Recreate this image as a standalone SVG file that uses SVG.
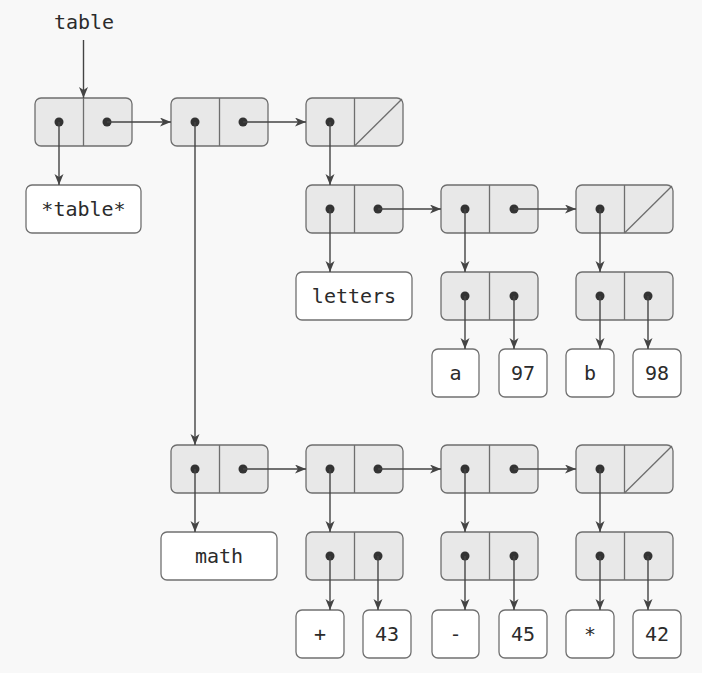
<svg xmlns="http://www.w3.org/2000/svg" width="702" height="673" viewBox="0 0 702 673">
<defs>
<style>
.cell{fill:#e8e8e8;stroke:#6e6e6e;stroke-width:1.3}
.div{stroke:#6e6e6e;stroke-width:1.3}
.leaf{fill:#ffffff;stroke:#707070;stroke-width:1.3}
.dot{fill:#333333}
.t{font-family:"DejaVu Sans Mono","Liberation Mono",monospace;font-size:20px;fill:#2b2b2b;text-anchor:middle}
.c{stroke:#444444;stroke-width:1.4;fill:none;marker-end:url(#ah)}
</style>
<marker id="ah" markerUnits="userSpaceOnUse" markerWidth="12" markerHeight="10" refX="11" refY="4.5" orient="auto">
<path d="M0,0 L11,4.5 L0,9 L3,4.5 z" fill="#444444"/>
</marker>
</defs>
<rect width="702" height="673" fill="#f8f8f8"/>
<text class="t" x="84" y="29">table</text>

<g id="c1"><rect class="cell" x="35" y="98" width="97" height="48" rx="6"/><line class="div" x1="83.5" y1="98" x2="83.5" y2="146"/><circle class="dot" cx="59" cy="122" r="4.5"/><circle class="dot" cx="107" cy="122" r="4.5"/></g>
<g id="c2"><rect class="cell" x="171" y="98" width="97" height="48" rx="6"/><line class="div" x1="219.5" y1="98" x2="219.5" y2="146"/><circle class="dot" cx="195" cy="122" r="4.5"/><circle class="dot" cx="243" cy="122" r="4.5"/></g>
<g id="c3"><rect class="cell" x="306" y="98" width="97" height="48" rx="6"/><line class="div" x1="354.5" y1="98" x2="354.5" y2="146"/><line class="div" x1="354.5" y1="146" x2="402" y2="99"/><circle class="dot" cx="330" cy="122" r="4.5"/></g>
<g id="c4"><rect class="cell" x="306" y="185" width="97" height="48" rx="6"/><line class="div" x1="354.5" y1="185" x2="354.5" y2="233"/><circle class="dot" cx="330" cy="209" r="4.5"/><circle class="dot" cx="378" cy="209" r="4.5"/></g>
<g id="c5"><rect class="cell" x="441" y="185" width="97" height="48" rx="6"/><line class="div" x1="489.5" y1="185" x2="489.5" y2="233"/><circle class="dot" cx="465" cy="209" r="4.5"/><circle class="dot" cx="514" cy="209" r="4.5"/></g>
<g id="c6"><rect class="cell" x="576" y="185" width="97" height="48" rx="6"/><line class="div" x1="624.5" y1="185" x2="624.5" y2="233"/><line class="div" x1="624.5" y1="233" x2="672" y2="186"/><circle class="dot" cx="600" cy="209" r="4.5"/></g>
<g id="p1"><rect class="cell" x="441" y="272" width="97" height="48" rx="6"/><line class="div" x1="489.5" y1="272" x2="489.5" y2="320"/><circle class="dot" cx="465" cy="296" r="4.5"/><circle class="dot" cx="514" cy="296" r="4.5"/></g>
<g id="p2"><rect class="cell" x="576" y="272" width="97" height="48" rx="6"/><line class="div" x1="624.5" y1="272" x2="624.5" y2="320"/><circle class="dot" cx="600" cy="296" r="4.5"/><circle class="dot" cx="648" cy="296" r="4.5"/></g>
<g id="c7"><rect class="cell" x="171" y="445" width="97" height="48" rx="6"/><line class="div" x1="219.5" y1="445" x2="219.5" y2="493"/><circle class="dot" cx="195" cy="469" r="4.5"/><circle class="dot" cx="243" cy="469" r="4.5"/></g>
<g id="c8"><rect class="cell" x="306" y="445" width="97" height="48" rx="6"/><line class="div" x1="354.5" y1="445" x2="354.5" y2="493"/><circle class="dot" cx="330" cy="469" r="4.5"/><circle class="dot" cx="378" cy="469" r="4.5"/></g>
<g id="c9"><rect class="cell" x="441" y="445" width="97" height="48" rx="6"/><line class="div" x1="489.5" y1="445" x2="489.5" y2="493"/><circle class="dot" cx="465" cy="469" r="4.5"/><circle class="dot" cx="514" cy="469" r="4.5"/></g>
<g id="c10"><rect class="cell" x="576" y="445" width="97" height="48" rx="6"/><line class="div" x1="624.5" y1="445" x2="624.5" y2="493"/><line class="div" x1="624.5" y1="493" x2="672" y2="446"/><circle class="dot" cx="600" cy="469" r="4.5"/></g>
<g id="p3"><rect class="cell" x="306" y="532" width="97" height="48" rx="6"/><line class="div" x1="354.5" y1="532" x2="354.5" y2="580"/><circle class="dot" cx="330" cy="556" r="4.5"/><circle class="dot" cx="378" cy="556" r="4.5"/></g>
<g id="p4"><rect class="cell" x="441" y="532" width="97" height="48" rx="6"/><line class="div" x1="489.5" y1="532" x2="489.5" y2="580"/><circle class="dot" cx="465" cy="556" r="4.5"/><circle class="dot" cx="514" cy="556" r="4.5"/></g>
<g id="p5"><rect class="cell" x="576" y="532" width="97" height="48" rx="6"/><line class="div" x1="624.5" y1="532" x2="624.5" y2="580"/><circle class="dot" cx="600" cy="556" r="4.5"/><circle class="dot" cx="648" cy="556" r="4.5"/></g>

<g id="l-table"><rect class="leaf" x="26" y="185" width="115" height="48" rx="6"/><text class="t" x="83.5" y="216">*table*</text></g>
<g id="l-letters"><rect class="leaf" x="296" y="272" width="116" height="48" rx="6"/><text class="t" x="354" y="303">letters</text></g>
<g id="l-a"><rect class="leaf" x="432" y="349" width="47" height="48" rx="6"/><text class="t" x="455.5" y="380">a</text></g>
<g id="l-97"><rect class="leaf" x="499" y="349" width="48" height="48" rx="6"/><text class="t" x="523" y="380">97</text></g>
<g id="l-b"><rect class="leaf" x="566" y="349" width="48" height="48" rx="6"/><text class="t" x="590" y="380">b</text></g>
<g id="l-98"><rect class="leaf" x="633" y="349" width="48" height="48" rx="6"/><text class="t" x="657" y="380">98</text></g>
<g id="l-math"><rect class="leaf" x="161" y="532" width="116" height="48" rx="6"/><text class="t" x="219" y="563">math</text></g>
<g id="l-plus"><rect class="leaf" x="296" y="610" width="48" height="48" rx="6"/><text class="t" x="320" y="641">+</text></g>
<g id="l-43"><rect class="leaf" x="363" y="610" width="48" height="48" rx="6"/><text class="t" x="387" y="641">43</text></g>
<g id="l-minus"><rect class="leaf" x="432" y="610" width="47" height="48" rx="6"/><text class="t" x="455.5" y="641">-</text></g>
<g id="l-45"><rect class="leaf" x="499" y="610" width="48" height="48" rx="6"/><text class="t" x="523" y="641">45</text></g>
<g id="l-star"><rect class="leaf" x="566" y="610" width="48" height="48" rx="6"/><text class="t" x="590" y="641">*</text></g>
<g id="l-42"><rect class="leaf" x="633" y="610" width="48" height="48" rx="6"/><text class="t" x="657" y="641">42</text></g>

<g id="connectors">
<line class="c" x1="83.5" y1="40" x2="83.5" y2="98"/>
<line class="c" x1="59" y1="122" x2="59" y2="185"/>
<line class="c" x1="107" y1="122" x2="171" y2="122"/>
<line class="c" x1="243" y1="122" x2="306" y2="122"/>
<line class="c" x1="195" y1="122" x2="195" y2="445"/>
<line class="c" x1="330" y1="122" x2="330" y2="185"/>
<line class="c" x1="330" y1="209" x2="330" y2="272"/>
<line class="c" x1="378" y1="209" x2="441" y2="209"/>
<line class="c" x1="514" y1="209" x2="576" y2="209"/>
<line class="c" x1="465" y1="209" x2="465" y2="272"/>
<line class="c" x1="600" y1="209" x2="600" y2="272"/>
<line class="c" x1="465" y1="296" x2="465" y2="349"/>
<line class="c" x1="514" y1="296" x2="514" y2="349"/>
<line class="c" x1="600" y1="296" x2="600" y2="349"/>
<line class="c" x1="648" y1="296" x2="648" y2="349"/>
<line class="c" x1="195" y1="469" x2="195" y2="532"/>
<line class="c" x1="243" y1="469" x2="306" y2="469"/>
<line class="c" x1="378" y1="469" x2="441" y2="469"/>
<line class="c" x1="514" y1="469" x2="576" y2="469"/>
<line class="c" x1="330" y1="469" x2="330" y2="532"/>
<line class="c" x1="465" y1="469" x2="465" y2="532"/>
<line class="c" x1="600" y1="469" x2="600" y2="532"/>
<line class="c" x1="330" y1="556" x2="330" y2="610"/>
<line class="c" x1="378" y1="556" x2="378" y2="610"/>
<line class="c" x1="465" y1="556" x2="465" y2="610"/>
<line class="c" x1="514" y1="556" x2="514" y2="610"/>
<line class="c" x1="600" y1="556" x2="600" y2="610"/>
<line class="c" x1="648" y1="556" x2="648" y2="610"/>
</g>
</svg>
